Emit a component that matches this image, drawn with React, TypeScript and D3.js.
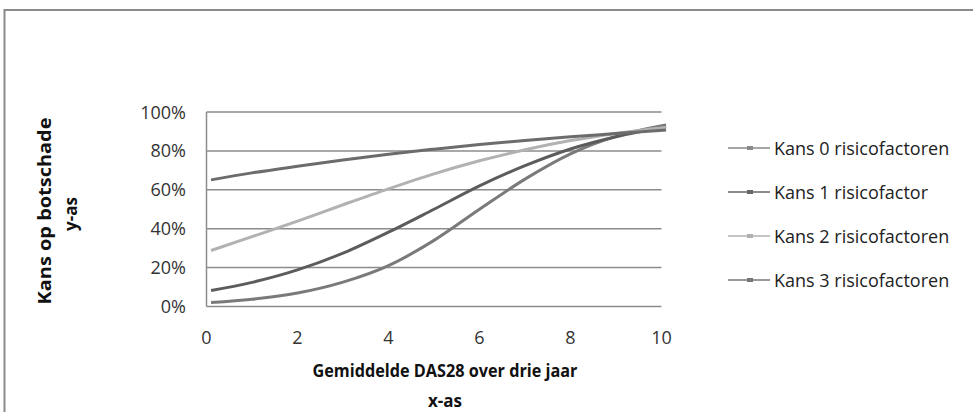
import React from "react";
import * as d3 from "d3";

// Data
const xValues = [0.1, 1, 2, 3, 4, 5, 6, 7, 8, 9, 10.1];
const kans0 = [2.0, 3.7, 6.9, 12.5, 21.0, 34.0, 50.0, 65.5, 78.5, 87.5, 93.3];
const kans1 = [8.2, 12.4, 18.8, 27.4, 38.2, 50.0, 62.0, 72.4, 81.0, 87.3, 92.4];
const kans2 = [28.8, 35.9, 43.9, 52.3, 60.5, 68.2, 74.9, 80.6, 85.3, 89.0, 92.2];
const kans3 = [65.1, 68.7, 72.1, 75.3, 78.3, 80.9, 83.3, 85.4, 87.3, 88.9, 90.8];
const seriesNames = [
  "Kans 0 risicofactoren",
  "Kans 1 risicofactor",
  "Kans 2 risicofactoren",
  "Kans 3 risicofactoren",
];
const xTicks = [0, 2, 4, 6, 8, 10];
const yTicks = [0, 20, 40, 60, 80, 100];

const colors = ["#7a7a7a", "#5c5c5c", "#b2b2b2", "#6c6c6c"];
const legendColors = ["#8a8a8a", "#666666", "#b0b0b0", "#777777"];

const FONT = "'Open Sans', sans-serif";

export default function App() {
  const W = 973;
  const H = 412;
  const left = 206.5;
  const right = 661.5;
  const top = 112;
  const bottom = 306.5;

  const x = d3.scaleLinear().domain([0, 10]).range([left, right]);
  const y = d3.scaleLinear().domain([0, 100]).range([bottom, top]);

  const all = [kans0, kans1, kans2, kans3];
  const line = d3
    .line<number>()
    .x((_, i) => x(xValues[i]))
    .y((d) => y(d))
    .curve(d3.curveMonotoneX);

  return (
    <svg
      width={W}
      height={H}
      style={{ position: "absolute", left: 0, top: 0, background: "#fff" }}
    >
      {/* outer border */}
      <rect x={4.5} y={10} width={1000} height={500} fill="none" stroke="#8a8a8a" strokeWidth={2} />

      {/* gridlines */}
      {yTicks.map((t) => (
        <line key={t} x1={left} x2={right} y1={y(t)} y2={y(t)} stroke="#8c8c8c" strokeWidth={1.5} />
      ))}
      <line x1={left} x2={left} y1={top} y2={bottom} stroke="#8c8c8c" strokeWidth={1.5} />

      {/* y tick labels */}
      {yTicks.map((t) => (
        <text
          key={t}
          x={186}
          y={y(t) + 6.5}
          textAnchor="end"
          fontFamily={FONT}
          fontSize={18}
          fill="#333"
        >
          {t}%
        </text>
      ))}

      {/* x tick labels */}
      {xTicks.map((t) => (
        <text
          key={t}
          x={x(t)}
          y={344}
          textAnchor="middle"
          fontFamily={FONT}
          fontSize={18}
          fill="#333"
        >
          {t}
        </text>
      ))}

      {/* series */}
      {all.map((s, i) => (
        <path key={i} d={line(s) || ""} fill="none" stroke={colors[i]} strokeWidth={3} />
      ))}

      {/* x axis title */}
      <text x={445} y={377} textAnchor="middle" fontFamily={FONT} fontSize={17} fontWeight="bold" fill="#111" textLength={265} lengthAdjust="spacingAndGlyphs">
        Gemiddelde DAS28 over drie jaar
      </text>
      <text x={445} y={407} textAnchor="middle" fontFamily={FONT} fontSize={17} fontWeight="bold" fill="#111">
        x-as
      </text>

      {/* y axis title */}
      <text
        transform={`translate(51,${211}) rotate(-90)`}
        textAnchor="middle"
        fontFamily={FONT}
        fontSize={17}
        fontWeight="bold"
        fill="#111"
        textLength={187}
        lengthAdjust="spacingAndGlyphs"
      >
        Kans op botschade
      </text>
      <text
        transform={`translate(77,${214}) rotate(-90)`}
        textAnchor="middle"
        fontFamily={FONT}
        fontSize={17}
        fontWeight="bold"
        fill="#111"
      >
        y-as
      </text>

      {/* legend */}
      {seriesNames.map((n, i) => {
        const ly = 148 + i * 44;
        return (
          <g key={n}>
            <line x1={728} x2={770} y1={ly} y2={ly} stroke={legendColors[i]} strokeWidth={1.5} />
            <rect x={747} y={ly - 2} width={6} height={4} fill={legendColors[i]} />
            <text x={774} y={ly + 7} fontFamily={FONT} fontSize={18} fill="#222">
              {n}
            </text>
          </g>
        );
      })}
    </svg>
  );
}
